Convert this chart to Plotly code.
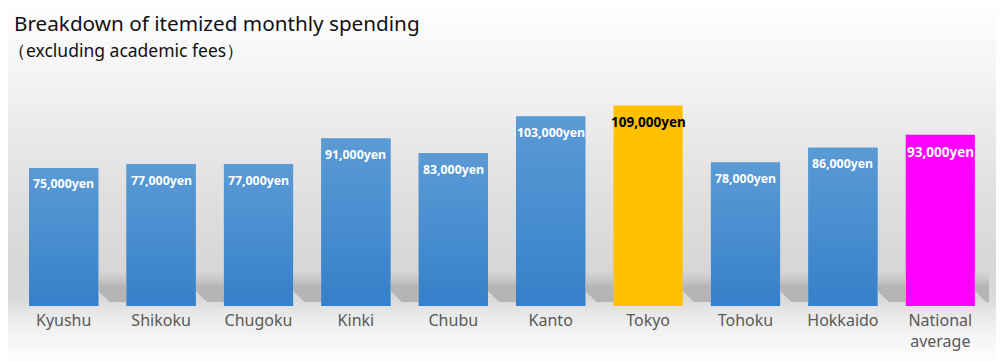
import plotly.graph_objects as go

# ---------------- data ----------------
categories = ["Kyushu", "Shikoku", "Chugoku", "Kinki", "Chubu", "Kanto",
              "Tokyo", "Tohoku", "Hokkaido", "National<br>average"]
values = [75000, 77000, 77000, 91000, 83000, 103000, 109000, 78000, 86000, 93000]
value_labels = ["75,000yen", "77,000yen", "77,000yen", "91,000yen", "83,000yen",
                "103,000yen", "109,000yen", "78,000yen", "86,000yen", "93,000yen"]
highlight = {"Tokyo": "#FFC000", "National<br>average": "#FF00FF"}

title_text = "Breakdown of itemized monthly spending"
subtitle_text = "（excluding academic fees）"

# ---------------- layout constants ----------------
OFF = 8                      # page body margin
W, H = 1004 - OFF, 362 - OFF
ML, MR, MT, MB = 15 - OFF, 15, 80 - OFF, 56
PH = H - MT - MB
YMAX = 122800
BAR_W = 0.71
FONT = "Noto Sans"


def py_to_y(py):
    """screen pixel row -> data y"""
    return (H + OFF - MB - py) * YMAX / PH


def py_to_paper(py):
    return (H + OFF - MB - py) / PH


fig = go.Figure()

# background gradient (stepped bands in paper coords)
bg_stops = [(0, 255), (60, 246), (120, 236), (180, 226), (240, 218), (265, 215),
            (300, 217), (306, 225), (320, 236), (340, 246), (362, 254)]


def bg_level(py):
    for (a, ca), (b, cb) in zip(bg_stops[:-1], bg_stops[1:]):
        if a <= py <= b:
            t = (py - a) / (b - a) if b > a else 0
            return round(ca + (cb - ca) * t)
    return 255


shapes = []
step = 3
PW = W - ML - MR
for py in range(0, 362, step):
    g = bg_level(py + step / 2)
    shapes.append(dict(type="rect", xref="paper", yref="paper", layer="below",
                       x0=-ML / PW - 0.02, x1=1 + MR / PW + 0.02,
                       y0=py_to_paper(py + step), y1=py_to_paper(py),
                       fillcolor=f"rgb({g},{g},{g})", line=dict(width=0)))

xs = list(range(len(categories)))

# floor shadows to the right of each bar
gap = 1 - BAR_W
for i in xs:
    xr = i + BAR_W / 2
    sx = [xr, xr + gap, xr + gap, xr + gap * 0.4, xr, xr]
    sy = [py_to_y(266), py_to_y(266), py_to_y(302), py_to_y(302), py_to_y(291), py_to_y(266)]
    fig.add_trace(go.Scatter(
        x=sx, y=sy, mode="lines", fill="toself", line=dict(width=0),
        fillgradient=dict(type="vertical",
                          colorscale=[[0, "rgba(178,178,178,0.95)"],
                                      [0.45, "rgba(180,180,180,0.95)"],
                                      [1, "rgba(215,215,215,0)"]],
                          start=py_to_y(302), stop=py_to_y(266)),
        hoverinfo="skip", showlegend=False))

# bars
bar_colors = [highlight.get(c, "#4A8ED0") for c in categories]
fig.add_trace(go.Bar(x=xs, y=values, width=BAR_W, marker=dict(color=bar_colors, line=dict(width=0)),
                     showlegend=False, hoverinfo="skip"))

# gradient overlay for the blue bars
for i, (c, v) in enumerate(zip(categories, values)):
    if c in highlight:
        continue
    x0, x1 = i - BAR_W / 2, i + BAR_W / 2
    fig.add_trace(go.Scatter(
        x=[x0, x1, x1, x0, x0], y=[0, 0, v, v, 0], mode="lines", fill="toself",
        line=dict(width=0),
        fillgradient=dict(type="vertical",
                          colorscale=[[0, "#3580CA"], [1, "#5B9BD5"]],
                          start=0, stop=v),
        hoverinfo="skip", showlegend=False))

annotations = []
for i, (c, v, lab) in enumerate(zip(categories, values, value_labels)):
    big = c in highlight
    color = "#000000" if c == "Tokyo" else "#FFFFFF"
    annotations.append(dict(x=i, y=v, xref="x", yref="y", text=f"<b>{lab}</b>",
                            showarrow=False, yanchor="middle", xanchor="center",
                            yshift=-17 if big else -16,
                            font=dict(family=FONT, size=13.5 if big else 12.3, color=color)))

annotations.append(dict(x=0, y=py_to_paper(23), xref="paper", yref="paper",
                        text=title_text, showarrow=False, xanchor="left", yanchor="middle",
                        xshift=-3,
                        font=dict(family=FONT, size=20.7, color="#111111")))
annotations.append(dict(x=0, y=py_to_paper(50), xref="paper", yref="paper",
                        text=subtitle_text, showarrow=False, xanchor="left", yanchor="middle",
                        xshift=-9,
                        font=dict(family=FONT, size=17.5, color="#111111")))

fig.update_layout(
    width=W, height=H,
    margin=dict(l=ML, r=MR, t=MT, b=MB, pad=0),
    paper_bgcolor="#FFFFFF", plot_bgcolor="rgba(0,0,0,0)",
    shapes=shapes, annotations=annotations,
    bargap=1 - BAR_W,
    xaxis=dict(range=[-0.5, len(categories) - 0.5], tickvals=xs, ticktext=categories,
               showgrid=False, zeroline=False, showline=False, ticks="",
               ticklabelstandoff=3,
               tickfont=dict(family=FONT, size=16, color="#595959")),
    yaxis=dict(range=[0, YMAX], visible=False, showgrid=False, zeroline=False),
    showlegend=False,
)

fig.write_html("out.html")
